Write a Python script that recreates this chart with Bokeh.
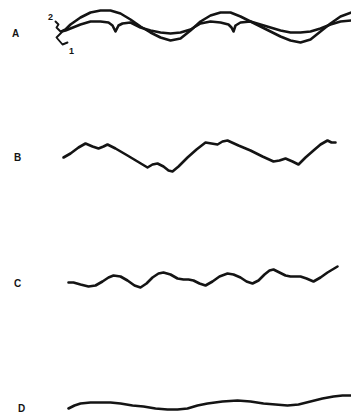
from bokeh.plotting import figure
from bokeh.models import Range1d
from bokeh.embed import file_html
from bokeh.resources import INLINE

# Trace A: two superimposed waveforms (1 = smooth, 2 = notched)
a1_x = [61, 65, 70, 80, 90, 100, 110, 120, 130, 140, 150, 160, 170, 180, 190, 200, 210, 220, 230,
        240, 250, 260, 270, 280, 290, 300, 310, 320, 330, 340, 351]
a1_y = [31, 29, 24, 17, 12, 10, 10, 13, 19, 26, 32, 37, 40, 38, 30, 21, 15, 12, 12,
        16, 21, 26, 31, 36, 40, 42, 39, 31, 23, 16, 12]
a2_x = [61, 65, 70, 80, 90, 100, 108, 112, 115, 118, 122, 130, 140, 150, 160, 170, 180, 190, 200,
        210, 220, 228, 231, 233, 235, 240, 250, 260, 270, 280, 290, 300, 310, 320, 330, 340, 351]
a2_y = [31, 30, 28, 24, 21, 21, 22, 25, 31, 25, 23, 22, 27, 30, 32, 33, 32, 29, 23,
        21, 22, 24, 27, 31, 25, 22, 21, 24, 27, 30, 32, 32, 31, 28, 24, 21, 20]

# Trace B
b_x = [63, 70, 78, 85, 92, 98, 103, 107, 115, 127, 137, 147, 152, 157, 163, 168, 172, 178, 187,
       196, 205, 211, 217, 222, 227, 238, 250, 262, 273, 279, 285, 292, 298, 305, 313, 320, 327, 331, 335]
b_y = [157, 153, 147, 143, 146, 148, 146, 144, 148, 155, 161, 167, 164, 163, 166, 170, 171, 166, 157,
       149, 142, 143, 144, 141, 140, 145, 150, 156, 161, 160, 158, 161, 164, 157, 150, 144, 140, 142, 142]

# Trace C
c_x = [68, 73, 80, 88, 95, 102, 108, 113, 120, 127, 134, 140, 146, 152, 158, 163, 170, 177, 183,
       188, 193, 199, 205, 212, 219, 227, 233, 240, 246, 252, 258, 264, 269, 273, 279, 285, 290,
       295, 300, 306, 313, 320, 327, 332, 337]
c_y = [282, 282, 284, 286, 285, 281, 277, 275, 276, 280, 285, 287, 283, 277, 273, 272, 274, 278, 279,
       279, 280, 283, 285, 281, 276, 273, 274, 277, 281, 283, 280, 274, 270, 269, 272, 275, 276,
       276, 276, 278, 281, 277, 272, 269, 266]

# Trace D
d_x = [68, 74, 80, 90, 100, 110, 120, 132, 143, 155, 167, 177, 187, 197, 207, 222, 237, 250, 263,
       275, 287, 298, 310, 322, 333, 342, 351]
d_y = [408, 405, 403, 402, 402, 402, 403, 405, 406, 408, 409, 409, 408, 405, 403, 401, 400, 401, 403,
       404, 405, 404, 401, 398, 396, 395, 395]

# Start marks of trace A
tick_x = [55, 58, 56, 60]
tick_y = [21, 24, 27, 31]
hook_x = [61, 56, 62, 67]
hook_y = [32, 37, 44, 42]

labels = ["A", "B", "C", "D"]
label_x = [15, 17, 17, 21]
label_y = [33, 157, 283, 408]

p = figure(width=351, height=419, output_backend="svg", toolbar_location=None,
           x_range=Range1d(0, 351), y_range=Range1d(419, 0),
           min_border=0, background_fill_color="white", border_fill_color="white")
p.axis.visible = False
p.grid.visible = False
p.outline_line_color = None

ink = "#141414"
style = dict(line_color=ink, line_width=2.6, line_join="round", line_cap="round")
for xs, ys in [(a1_x, a1_y), (a2_x, a2_y), (b_x, b_y), (c_x, c_y), (d_x, d_y)]:
    p.line(xs, ys, **style)
p.line(tick_x, tick_y, line_color=ink, line_width=1.9, line_join="round", line_cap="round")
p.line(hook_x, hook_y, line_color=ink, line_width=1.9, line_join="round", line_cap="round")

p.text(x=label_x, y=label_y, text=labels, text_font_size="10px", text_font_style="bold",
       text_color=ink, text_align="center", text_baseline="middle")
p.text(x=[50, 71], y=[16, 50], text=["2", "1"], text_font_size="9px", text_font_style="bold",
       text_color=ink, text_align="center", text_baseline="middle")

open("out.html", "w").write(file_html(p, INLINE))
